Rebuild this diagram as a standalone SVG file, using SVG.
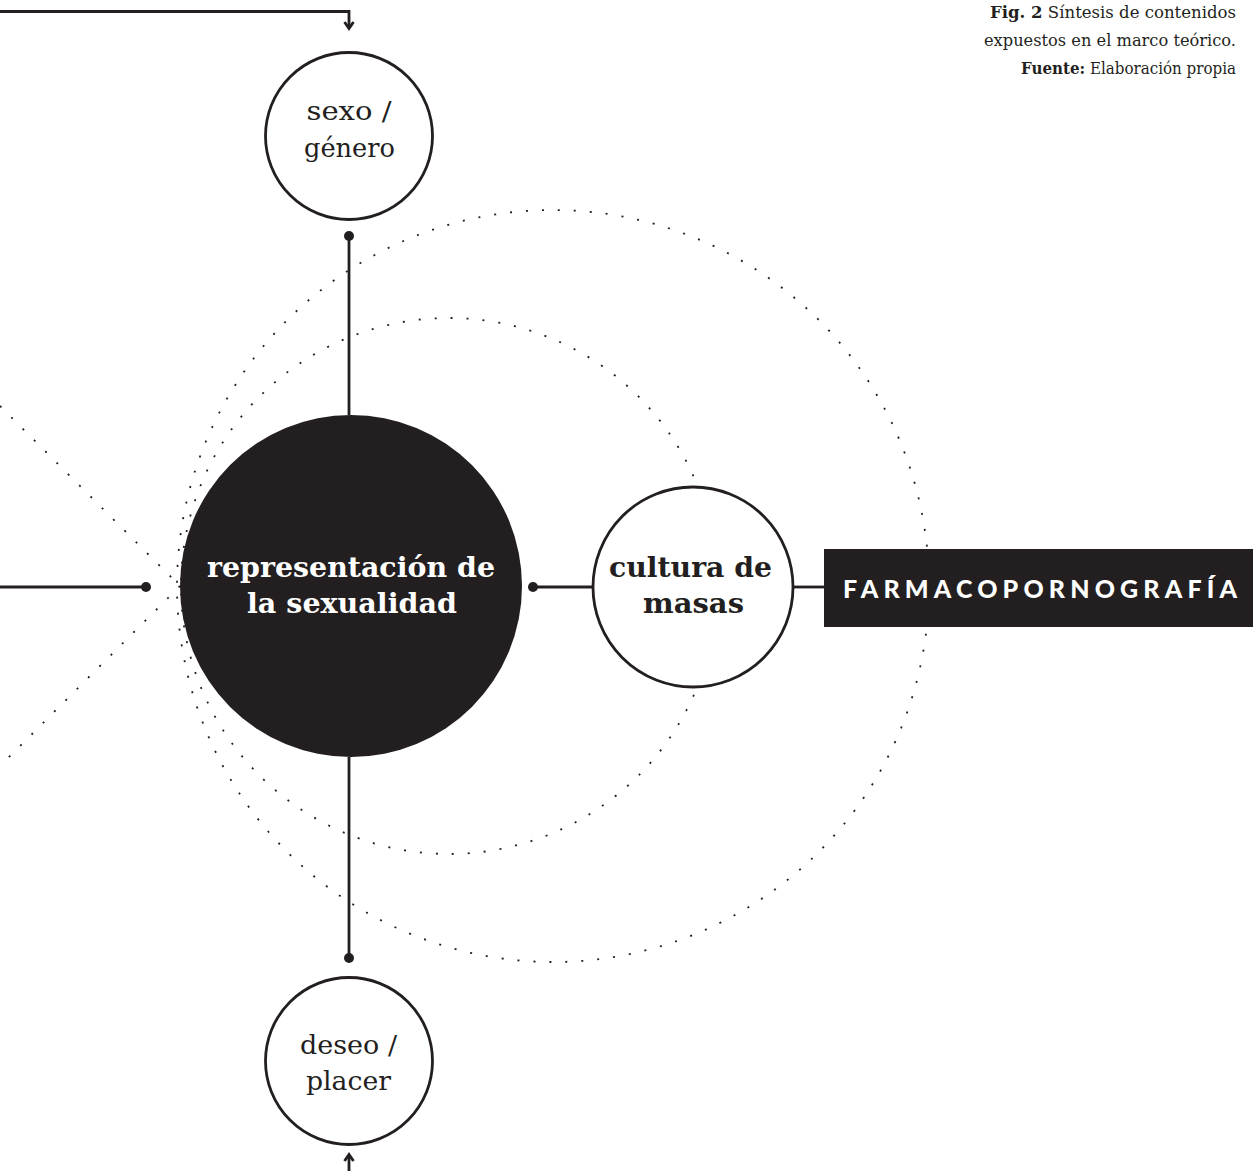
<svg xmlns="http://www.w3.org/2000/svg" width="1253" height="1171" viewBox="0 0 1253 1171">
<defs>
<style>
.ln{stroke:#231f20;stroke-width:2.8;fill:none}
.ah{stroke:#231f20;stroke-width:2.8;fill:none;stroke-linejoin:miter}
.dot{fill:#231f20}
.dash{stroke:#231f20;stroke-width:1.8;fill:none;stroke-dasharray:2 14}
.wc{fill:#fff;stroke:#231f20;stroke-width:2.8}
.sr{font-family:"DejaVu Serif","Liberation Serif",serif;fill:#231f20;text-anchor:middle}
.bd{font-weight:bold}
.wt{fill:#fff}
.cap{font-family:"DejaVu Serif","Liberation Serif",serif;fill:#231f20;text-anchor:end;font-size:16px}
</style>
</defs>
<rect width="1253" height="1171" fill="#fff"/>
<g id="background-dotted">
<circle class="dash" cx="553" cy="586" r="376"/>
<circle class="dash" cx="449" cy="586" r="268"/>
<line class="dash" x1="0" y1="406" x2="180" y2="586"/>
<line class="dash" x1="180" y1="586" x2="0" y2="766"/>
</g>
<g id="connectors">
<polyline class="ln" points="0,11.5 349,11.5 349,28"/>
<polyline class="ah" points="344.5,22 349,28.5 353.5,22"/>
<line class="ln" x1="349" y1="1171" x2="349" y2="1155"/>
<polyline class="ah" points="344.5,1161 349,1154.5 353.5,1161"/>
<line class="ln" x1="349" y1="236" x2="349" y2="415"/>
<circle class="dot" cx="349" cy="236" r="5"/>
<line class="ln" x1="349" y1="757" x2="349" y2="958"/>
<circle class="dot" cx="349" cy="958" r="5"/>
<line class="ln" x1="0" y1="587" x2="146" y2="587"/>
<circle class="dot" cx="146" cy="587" r="5"/>
<line class="ln" x1="533" y1="587" x2="594" y2="587"/>
<circle class="dot" cx="533" cy="587" r="5"/>
<line class="ln" x1="793" y1="587" x2="825" y2="587"/>
</g>
<g id="node-sexo-genero">
<circle class="wc" cx="349" cy="136" r="83.5"/>
<text class="sr" x="349" y="120" font-size="26" textLength="85" lengthAdjust="spacingAndGlyphs">sexo /</text>
<text class="sr" x="349.5" y="157" font-size="26" textLength="91" lengthAdjust="spacingAndGlyphs">género</text>
</g>
<g id="node-representacion">
<circle cx="351" cy="586" r="171" fill="#231f20"/>
<text class="sr bd wt" x="351" y="577" font-size="27" textLength="288" lengthAdjust="spacingAndGlyphs">representación de</text>
<text class="sr bd wt" x="352" y="613" font-size="27" textLength="210" lengthAdjust="spacingAndGlyphs">la sexualidad</text>
</g>
<g id="node-cultura">
<circle class="wc" cx="693" cy="587" r="100"/>
<text class="sr bd" x="690.5" y="577" font-size="27" textLength="163" lengthAdjust="spacingAndGlyphs">cultura de</text>
<text class="sr bd" x="693.5" y="613" font-size="27" textLength="101" lengthAdjust="spacingAndGlyphs">masas</text>
</g>
<g id="node-deseo-placer">
<circle class="wc" cx="349" cy="1061" r="83.5"/>
<text class="sr" x="348.5" y="1054" font-size="26" textLength="97" lengthAdjust="spacingAndGlyphs">deseo /</text>
<text class="sr" x="348.5" y="1090" font-size="26" textLength="85" lengthAdjust="spacingAndGlyphs">placer</text>
</g>
<g id="node-farmaco">
<rect x="824" y="549" width="429" height="78" fill="#231f20"/>
<text x="1040" y="597.5" font-family="Lato,'Open Sans',sans-serif" font-weight="900" font-size="25" fill="#fff" text-anchor="middle" textLength="394" lengthAdjust="spacing">FARMACOPORNOGRAFÍA</text>
</g>
<g id="caption">
<text class="cap" x="1236" y="18" textLength="246" lengthAdjust="spacingAndGlyphs"><tspan font-weight="bold">Fig. 2</tspan> Síntesis de contenidos</text>
<text class="cap" x="1236" y="46" textLength="252" lengthAdjust="spacingAndGlyphs">expuestos en el marco teórico.</text>
<text class="cap" x="1236" y="74" textLength="215" lengthAdjust="spacingAndGlyphs"><tspan font-weight="bold">Fuente:</tspan> Elaboración propia</text>
</g>
</svg>
